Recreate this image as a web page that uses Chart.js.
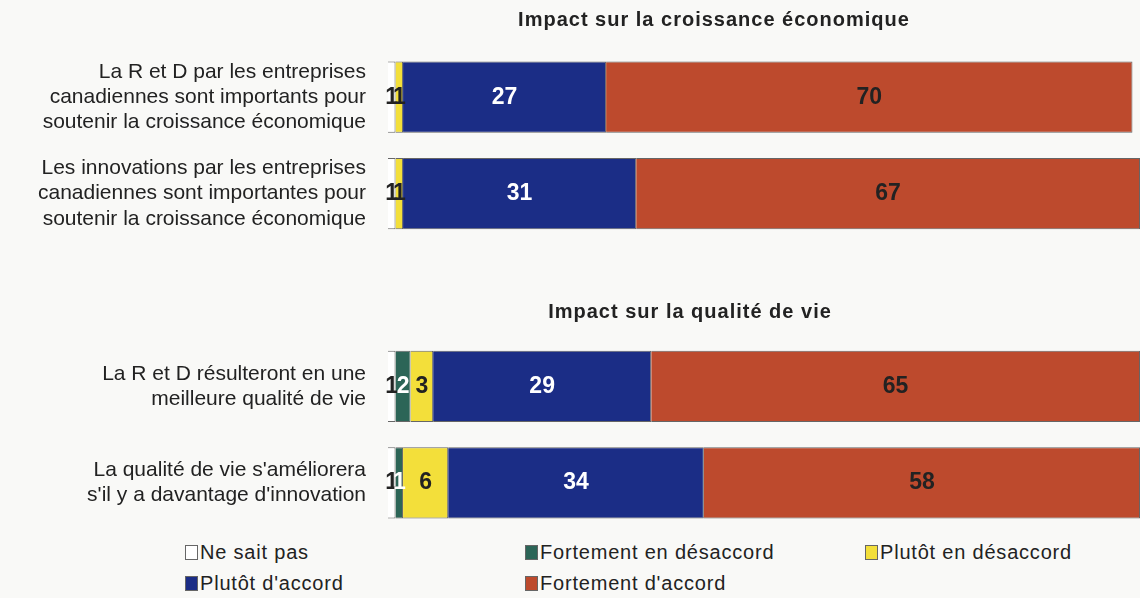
<!DOCTYPE html>
<html>
<head>
<meta charset="utf-8">
<script src="https://cdn.jsdelivr.net/npm/chart.js@4"></script>
<style>
  body { margin: 0; background: #f9f9f7; font-family: "Liberation Sans", Arial, sans-serif; }
  #wrap { position: relative; width: 1140px; height: 598px; overflow: hidden; }
  #barChart { position: absolute; left: 0; top: 0; }
  #legend { position: absolute; left: 185px; top: 541px; display: grid;
    grid-template-columns: 340px 340px 280px; row-gap: 8px; font-size: 20px;
    letter-spacing: 0.8px; color: #222; }
  #legend span.sw { display: inline-block; width: 11px; height: 13px; border: 1px solid #666;
    margin-right: 2px; vertical-align: -1px; }
</style>
</head>
<body>
<div id="wrap">
  <canvas id="barChart" width="1140" height="540"></canvas>
  <div id="legend"></div>
</div>
<script>
// categories (empty one = gap between the two groups)
const categories = [
  ["La R et D par les entreprises", "canadiennes sont importants pour", "soutenir la croissance économique"],
  ["Les innovations par les entreprises", "canadiennes sont importantes pour", "soutenir la croissance économique"],
  "",
  ["La R et D résulteront en une", "meilleure qualité de vie"],
  ["La qualité de vie s'améliorera", "s'il y a davantage d'innovation"]
];
const titles = ["Impact sur la croissance économique", "Impact sur la qualité de vie"];

const seriesNames = ["Ne sait pas", "Fortement en désaccord", "Plutôt en désaccord", "Plutôt d'accord", "Fortement d'accord"];
const neSaitPas      = [1, 1, null, 1, 1];
const fortDesaccord  = [0, 0, null, 2, 1];
const plutotDesacc   = [1, 1, null, 3, 6];
const plutotAccord   = [27, 31, null, 29, 34];
const fortAccord     = [70, 67, null, 65, 58];

const colors = ["#ffffff", "#2c6557", "#f3df3a", "#1b2d86", "#bd4a2d"];
const labelColors = ["#222", "#fff", "#222", "#fff", "#222"];
const allData = [neSaitPas, fortDesaccord, plutotDesacc, plutotAccord, fortAccord];

const titlePlugin = {
  id: "titles",
  afterDraw(chart) {
    const ctx = chart.ctx;
    const y = chart.scales.y;
    ctx.save();
    ctx.font = "bold 20px 'Liberation Sans', Arial";
    ctx.letterSpacing = "1px";
    ctx.fillStyle = "#222";
    ctx.textAlign = "center";
    ctx.textBaseline = "middle";
    ctx.fillText(titles[0], 714, 20);
    ctx.fillText(titles[1], 690, y.getPixelForValue(2) + 22);
    ctx.restore();
  }
};

const valuePlugin = {
  id: "values",
  afterDatasetsDraw(chart) {
    const ctx = chart.ctx;
    ctx.save();
    ctx.font = "bold 23px 'Liberation Sans', Arial";
    ctx.textAlign = "center";
    ctx.textBaseline = "middle";
    chart.data.datasets.forEach((ds, i) => {
      chart.getDatasetMeta(i).data.forEach((bar, j) => {
        const v = ds.data[j];
        if (!v) return;
        ctx.fillStyle = labelColors[i];
        const x = (bar.x + bar.base) / 2;
        ctx.fillText(v, x, bar.y);
      });
    });
    ctx.restore();
  }
};

const legendEl = document.getElementById("legend");
seriesNames.forEach((n, i) => {
  const d = document.createElement("div");
  d.innerHTML = '<span class="sw" style="background:' + colors[i] + '"></span>' + n;
  legendEl.appendChild(d);
});

const barChart = document.getElementById("barChart").getContext("2d");

new Chart(barChart, {
  type: "bar",
  data: {
    labels: categories,
    datasets: allData.map((d, i) => ({
      label: seriesNames[i],
      data: d,
      backgroundColor: colors[i],
      borderColor: "#666",
      borderWidth: 1,
      categoryPercentage: 1,
      barPercentage: 0.74
    }))
  },
  options: {
    indexAxis: "y",
    responsive: false,
    animation: false,
    layout: { padding: { top: 49, bottom: 9, right: 0, left: 0 } },
    scales: {
      x: {
        stacked: true,
        min: 0,
        max: 100,
        display: false
      },
      y: {
        stacked: true,
        grid: { display: false },
        border: { display: false },
        ticks: {
          color: "#222",
          padding: 14,
          font: { family: "'Liberation Sans', Arial", size: 21, lineHeight: 1.2 }
        },
        afterFit(scale) {
          scale.width = 388;
          scale.paddingTop = 0;
          scale.paddingBottom = 0;
        }
      }
    },
    plugins: {
      legend: { display: false },
      tooltip: { enabled: false }
    }
  },
  plugins: [titlePlugin, valuePlugin]
});
</script>
</body>
</html>
